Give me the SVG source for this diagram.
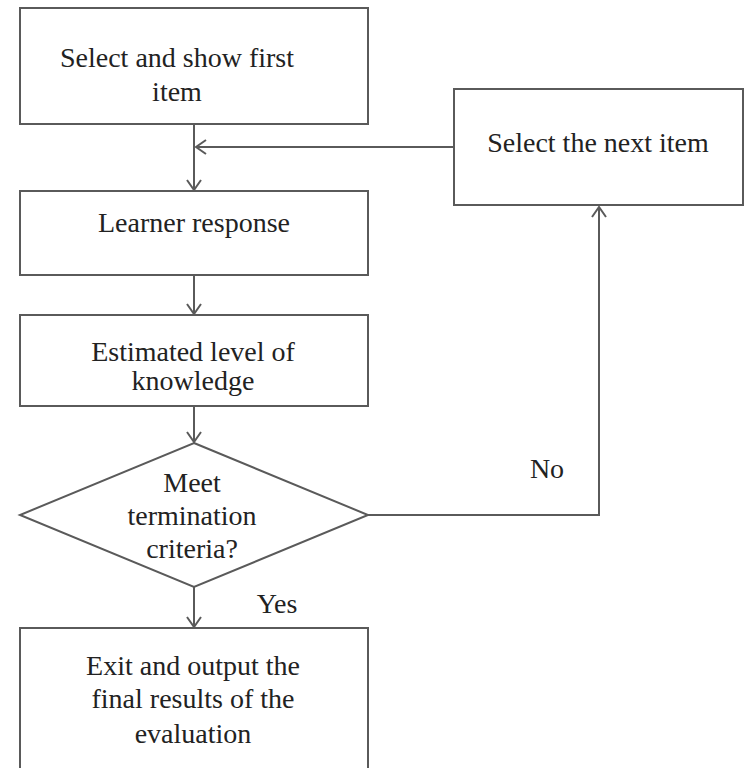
<svg xmlns="http://www.w3.org/2000/svg" width="746" height="768" viewBox="0 0 746 768">
<defs>
<style>
.box{fill:#fff;stroke:#5a5a5a;stroke-width:2}
.ln{fill:none;stroke:#5a5a5a;stroke-width:2}
.t{font-family:"Liberation Serif","Times New Roman",serif;font-size:28px;fill:#222;text-anchor:middle}
</style>
<marker id="arr" viewBox="0 0 12 16" refX="11" refY="8" markerWidth="12" markerHeight="16" markerUnits="userSpaceOnUse" orient="auto">
<path d="M1,1 L11,8 L1,15" fill="none" stroke="#5a5a5a" stroke-width="2"/>
</marker>
</defs>
<rect width="746" height="768" fill="#fff"/>
<g id="connectors">
<line class="ln" x1="194" y1="124" x2="194" y2="190" marker-end="url(#arr)"/>
<line class="ln" x1="454" y1="147" x2="196" y2="147" marker-end="url(#arr)"/>
<line class="ln" x1="194" y1="275" x2="194" y2="314" marker-end="url(#arr)"/>
<line class="ln" x1="194" y1="406" x2="194" y2="442" marker-end="url(#arr)"/>
<line class="ln" x1="194" y1="587" x2="194" y2="627" marker-end="url(#arr)"/>
<polyline class="ln" points="368,515 599,515 599,207" marker-end="url(#arr)"/>
<text class="t" x="547" y="478">No</text>
<text class="t" x="277" y="613">Yes</text>
</g>
<g id="n1">
<rect class="box" x="20" y="8" width="348" height="116"/>
<text class="t" x="177" y="67">Select and show first</text>
<text class="t" x="177" y="101">item</text>
</g>
<g id="n2">
<rect class="box" x="454" y="89" width="289" height="116"/>
<text class="t" x="598" y="152">Select the next item</text>
</g>
<g id="n3">
<rect class="box" x="20" y="191" width="348" height="84"/>
<text class="t" x="194" y="232">Learner response</text>
</g>
<g id="n4">
<rect class="box" x="20" y="315" width="348" height="91"/>
<text class="t" x="193" y="361">Estimated level of</text>
<text class="t" x="193" y="390">knowledge</text>
</g>
<g id="n5">
<polygon class="box" points="194,443 368,515 194,587 20,515"/>
<text class="t" x="192" y="492">Meet</text>
<text class="t" x="192" y="525">termination</text>
<text class="t" x="192" y="558">criteria?</text>
</g>
<g id="n6">
<rect class="box" x="20" y="628" width="348" height="160"/>
<text class="t" x="193" y="675">Exit and output the</text>
<text class="t" x="193" y="708">final results of the</text>
<text class="t" x="193" y="743">evaluation</text>
</g>
</svg>
